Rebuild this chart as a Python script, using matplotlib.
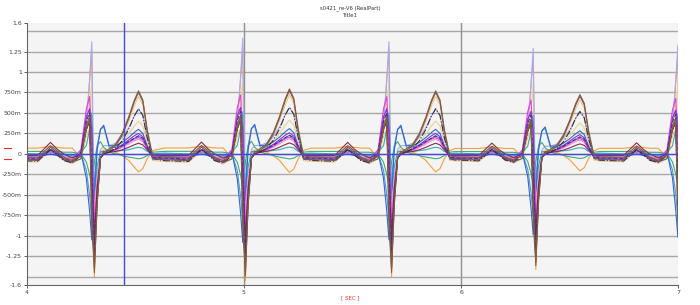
import matplotlib.pyplot as plt
from matplotlib.lines import Line2D

# beat R-peak times (s) and per-beat amplitude scaling
r_times = [4.30, 4.995, 5.668, 6.332, 6.998]
beat_scale = [1.0, 1.03, 1.0, 0.94, 0.97]

# keypoint offsets relative to each R peak (s)
offsets = [-0.36, -0.25, -0.22, -0.19, -0.16, -0.13, -0.09, -0.05, -0.025, -0.01,
           0.0, 0.012, 0.025, 0.04, 0.055, 0.08, 0.11, 0.14, 0.17, 0.195,
           0.215, 0.235, 0.255, 0.28]

brown = [-0.04, -0.05, 0.03, 0.10, 0.04, -0.04, -0.08, -0.02, 0.30, 0.42, -0.60, -1.45, -0.60, -0.05, 0.02, 0.06, 0.12, 0.25, 0.45, 0.65, 0.77, 0.66, 0.30, -0.02]
dark_gray = [-0.07, -0.08, 0.00, 0.08, 0.02, -0.06, -0.10, -0.06, 0.35, 0.45, -0.90, -1.40, -0.60, -0.05, 0.02, 0.04, 0.10, 0.23, 0.43, 0.63, 0.75, 0.64, 0.28, -0.06]
light_orange = [-0.09, -0.10, -0.03, 0.05, 0.00, -0.08, -0.12, -0.06, 0.22, 0.30, -0.50, -1.20, -0.50, -0.05, 0.00, 0.05, 0.10, 0.21, 0.40, 0.58, 0.70, 0.60, 0.26, -0.08]
orange = [0.07, 0.07, 0.08, 0.09, 0.08, 0.07, 0.07, -0.05, 0.30, 0.90, 1.27, -1.50, -0.40, 0.00, 0.05, 0.05, 0.02, -0.02, -0.08, -0.16, -0.22, -0.18, -0.06, 0.04]
lavender = [-0.03, -0.03, -0.01, 0.02, 0.00, -0.03, -0.05, 0.05, 0.40, 0.90, 1.37, -0.90, -0.30, 0.05, 0.10, 0.10, 0.13, 0.20, 0.32, 0.46, 0.55, 0.47, 0.20, 0.00]
tan = [-0.02, -0.02, 0.00, 0.03, 0.01, -0.02, -0.04, 0.02, 0.25, 0.55, 0.90, -1.00, -0.35, 0.02, 0.05, 0.06, 0.09, 0.15, 0.24, 0.34, 0.40, 0.34, 0.15, 0.00]
blue = [-0.03, -0.04, -0.02, 0.00, -0.02, -0.04, -0.06, 0.02, -0.30, -0.70, -1.05, -0.50, 0.05, 0.30, 0.35, 0.10, 0.10, 0.14, 0.20, 0.26, 0.30, 0.25, 0.10, -0.02]
steel = [0.00, -0.01, 0.00, 0.02, 0.00, -0.01, -0.03, 0.00, -0.20, -0.50, -0.80, -0.35, 0.10, 0.30, 0.33, 0.08, 0.08, 0.11, 0.15, 0.19, 0.22, 0.19, 0.08, 0.00]
purple = [-0.06, -0.07, -0.01, 0.05, 0.00, -0.07, -0.10, 0.00, 0.45, 0.55, 0.30, -1.20, -0.50, -0.05, 0.03, 0.02, 0.06, 0.11, 0.17, 0.22, 0.25, 0.21, 0.09, -0.05]
magenta = [-0.05, -0.05, -0.01, 0.04, 0.00, -0.05, -0.08, 0.05, 0.55, 0.70, 0.20, -0.90, -0.40, -0.05, 0.00, 0.02, 0.05, 0.09, 0.14, 0.18, 0.20, 0.17, 0.07, -0.04]
pink = [-0.04, -0.04, -0.01, 0.03, 0.00, -0.04, -0.06, 0.03, 0.45, 0.55, 0.10, -0.70, -0.30, -0.05, 0.00, 0.02, 0.04, 0.08, 0.12, 0.16, 0.18, 0.15, 0.06, -0.03]
maroon = [-0.02, -0.02, 0.06, 0.14, 0.06, 0.00, -0.05, 0.00, 0.30, 0.40, -0.30, -1.00, -0.40, -0.05, 0.00, 0.02, 0.03, 0.05, 0.08, 0.11, 0.13, 0.11, 0.05, -0.02]
green = [0.03, 0.03, 0.03, 0.03, 0.03, 0.02, 0.02, 0.00, -0.10, -0.25, -0.40, -0.10, 0.10, 0.15, 0.08, 0.02, 0.00, -0.02, -0.04, -0.05, -0.06, -0.05, -0.02, 0.02]
teal = [0.01, 0.00, 0.01, 0.02, 0.01, 0.00, -0.02, 0.02, 0.10, 0.30, 0.50, -0.50, -0.15, 0.03, 0.03, 0.02, 0.03, 0.04, 0.05, 0.07, 0.08, 0.07, 0.03, 0.00]
dark_purple = [-0.05, -0.06, 0.00, 0.06, 0.00, -0.06, -0.09, 0.02, 0.40, 0.50, -0.20, -1.10, -0.50, -0.05, 0.00, 0.03, 0.06, 0.10, 0.15, 0.19, 0.22, 0.19, 0.08, -0.04]
black = [-0.08, -0.09, -0.02, 0.05, -0.01, -0.08, -0.11, -0.02, 0.30, 0.40, -0.70, -1.30, -0.55, -0.05, 0.00, 0.02, 0.07, 0.16, 0.30, 0.46, 0.55, 0.47, 0.20, -0.06]

traces = [
    (orange, '#f0a040', '-'), (light_orange, '#f7c08a', '-'), (tan, '#ecd090', '-'),
    (lavender, '#a8a8f4', '-'), (green, '#44aa77', '-'), (teal, '#33b0b0', '-'),
    (steel, '#4a9ad8', '-'), (blue, '#3366cc', '-'), (pink, '#f090c8', '-'),
    (magenta, '#e040e0', '-'), (purple, '#8833cc', '-'), (maroon, '#8a2a50', '-'),
    (dark_purple, '#4a2a9a', '--'), (black, '#333333', '-.'),
    (dark_gray, '#606060', '-'), (brown, '#8a5a3a', '-'),
]

yticks = [1.6, 1.25, 1, 0.75, 0.5, 0.25, 0, -0.25, -0.5, -0.75, -1, -1.25, -1.6]
ylabels = ['1.6', '1.25', '1', '750m', '500m', '250m', '0', '-250m', '-500m',
           '-750m', '-1', '-1.25', '-1.6']
grid_y = [1.5, 1.25, 1, 0.75, 0.5, 0.25, 0, -0.25, -0.5, -0.75, -1, -1.25, -1.5]
cursor_x = 4.447

fig = plt.figure(figsize=(7, 3.05), dpi=100)
ax = fig.add_axes([0.038, 0.066, 0.931, 0.859])
ax.set_facecolor('#f4f4f4')

for g in grid_y:
    ax.axhline(g, color='#a8a8a8', lw=1.0, zorder=0)
for g in [5, 6]:
    ax.axvline(g, color='#909090', lw=1.0, zorder=0)

for vals, col, ls in traces:
    t_all, v_all = [], []
    for rt, sc in zip(r_times, beat_scale):
        for o, v in zip(offsets, vals):
            t_all.append(rt + o)
            v_all.append(v * sc)
    ax.plot(t_all, v_all, color=col, lw=0.8, ls=ls)

ax.axhline(0, color='#4848e0', lw=1.0)
ax.axvline(cursor_x, color='#4848e0', lw=1.0)

ax.set_xlim(4, 7)
ax.set_ylim(-1.6, 1.6)
ax.set_xticks([4, 5, 6, 7])
ax.set_xticklabels(['4', '5', '6', '7'])
ax.set_yticks(yticks)
ax.set_yticklabels(ylabels)
ax.tick_params(labelsize=4.5, colors='#444444', length=2, width=0.6, pad=1.5)
for s in ['top', 'right']:
    ax.spines[s].set_visible(False)
for s in ['left', 'bottom']:
    ax.spines[s].set_color('#666666')
    ax.spines[s].set_linewidth(0.8)

fig.text(0.5, 0.974, 's0421_re-V6 (RealPart)', ha='center', va='center', fontsize=3.8, color='#333333')
fig.text(0.5, 0.948, 'Title1', ha='center', va='center', fontsize=3.8, color='#333333')
fig.text(0.5, 0.022, '[ SEC ]', ha='center', va='center', fontsize=4, color='#e03030')
for yy in [0.515, 0.478]:
    fig.add_artist(Line2D([0.006, 0.015], [yy, yy], color='#e03030', lw=0.8))

fig.savefig('out.png', dpi=100)
